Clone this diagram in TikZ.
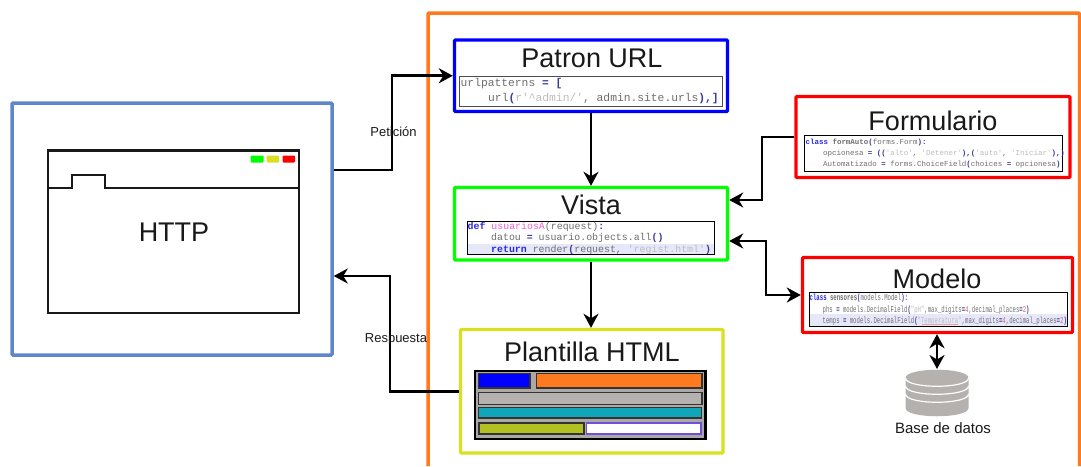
\documentclass[tikz,border=0pt]{standalone}
\usepackage{fontspec}
\usepackage{graphicx}
\setmainfont{Liberation Sans}
\newfontfamily\codef{Liberation Mono}
\usetikzlibrary{arrows.meta}
\definecolor{cliblue}{HTML}{5F85CB}
\definecolor{mvcorange}{HTML}{FF7A1E}
\definecolor{plyellow}{HTML}{D9E021}
\definecolor{hlband}{HTML}{E6E8FA}
\definecolor{cgrey}{HTML}{6E6E6E}
\definecolor{cop}{HTML}{3A3A9A}
\definecolor{cstr}{HTML}{BDBDBD}
\definecolor{ckw}{HTML}{2A2AE0}
\definecolor{cfn}{HTML}{F060D0}
\definecolor{cnum}{HTML}{E06060}
\definecolor{dbgrey}{HTML}{B5B1AE}
\definecolor{panelgrey}{HTML}{ABA8A6}
\definecolor{tealbar}{HTML}{10A5B8}
\definecolor{olivebar}{HTML}{B2C022}
\definecolor{violetline}{HTML}{7050D8}
\tikzset{
  mbox/.style={draw,rounded corners=1pt,inner sep=0pt,fill=white},
  codebox/.style={draw=black,line width=.9pt,inner sep=0pt,fill=white,outer sep=0pt},
  titletext/.style={inner sep=0pt,font=\fontsize{27}{30}\selectfont,text=black!90},
  smalltext/.style={inner sep=0pt,font=\fontsize{13}{15}\selectfont,text=black!90},
  arr/.style={draw=black,line width=2.8pt,line join=miter,-{Stealth[length=14pt,width=15pt,inset=4.5pt]}},
  darr/.style={draw=black,line width=2.8pt,line join=miter,{Stealth[length=14pt,width=15pt,inset=4.5pt]}-{Stealth[length=14pt,width=15pt,inset=4.5pt]}},
  codeline/.style={anchor=base west,inner sep=0pt,text=cgrey},
  codep/.style={codeline,font=\codef\fontsize{11.3}{12}\selectfont},
  codev/.style={codeline,font=\codef\fontsize{9.9}{11}\selectfont},
  codef/.style={codeline,font=\codef\fontsize{7.46}{9}\selectfont},
  codem/.style={codeline,font=\codef\fontsize{9}{11}\selectfont},
  barbox/.style={line width=1.3pt,inner sep=0pt,outer sep=0pt},
  lightbox/.style={rounded corners=1pt,inner sep=0pt,outer sep=0pt},
}
\newcommand{\rectnode}[7]{% style, name, x1,y1,x2,y2, text
  \node[#1,minimum width={(#5-#3)*1pt},minimum height={(#6-#4)*1pt}] (#2) at ({(#3+#5)/2},{(#4+#6)/2}) {#7};}
\newcommand{\ck}[1]{{\bfseries\textcolor{ckw}{#1}}}
\newcommand{\co}[1]{{\bfseries\textcolor{cop}{#1}}}
\newcommand{\cs}[1]{\textcolor{cstr}{#1}}
\newcommand{\cn}[1]{\textcolor{cnum}{#1}}
\newcommand{\squeeze}[1]{\scalebox{.628}[1]{#1}}
\begin{document}
\begin{tikzpicture}[x=1pt,y=-1pt]
\useasboundingbox (0,0) rectangle (1081,466);
% frame of the application
\draw[mvcorange,line width=3.5pt,rounded corners=1pt] (428,466) -- (428,13) -- (1079.5,13) -- (1079.5,466);
% client
\rectnode{mbox,draw=cliblue,line width=3.5pt}{client}{12}{103}{332}{355}{}
\rectnode{draw=black!90,line width=2.2pt,inner sep=0pt,outer sep=0pt}{win}{48}{150.5}{299}{313}{}
\draw[black!90,line width=2.2pt,line join=miter] (win.west |- 0,188) -- (72,188) -- (72,175) -- (105,175) -- (105,188) -- (win.east |- 0,188);
\rectnode{lightbox,fill=green}{lgreen}{250.5}{155.5}{263.5}{162.5}{}
\rectnode{lightbox,fill=plyellow}{lyellow}{266.5}{155.5}{279}{162.5}{}
\rectnode{lightbox,fill=red}{lred}{282.5}{155.5}{295}{162.5}{}
\node[titletext] (http) at (174,232) {HTTP};
% patron URL
\rectnode{mbox,draw=blue,line width=3.4pt}{patron}{454.5}{40}{727.5}{111.5}{}
\node[titletext] (tpatron) at (592,58) {Patron URL};
\rectnode{codebox,draw=black!70}{cpatron}{459.5}{76}{722.5}{106}{}
\node[codep] (pl1) at (460.5,86) {urlpatterns \co{= [}};
\node[codep] (pl2) at (488,101) {url\co{(}\cs{r'\textasciicircum admin/'}, admin.site.urls\co{),]}};
% vista
\rectnode{mbox,draw=green,line width=3.4pt}{vista}{454.5}{187.5}{727.5}{260}{}
\node[titletext] (tvista) at (591,205) {Vista};
\rectnode{codebox}{cvista}{467}{221}{714}{254}{}
\rectnode{fill=hlband,inner sep=0pt,outer sep=0pt}{bandv}{467.5}{243.5}{713.5}{253.5}{}
\node[codev] (vl1) at (467.5,229.5) {\ck{def} \textcolor{cfn}{usuariosA}(request)\co{:}};
\node[codev] (vl2) at (491,240.5) {datou \co{=} usuario.objects.all\co{()}};
\node[codev] (vl3) at (491,252) {\ck{return} render\co{(}request, \cs{'regist.html'}\co{)}};
% formulario
\rectnode{mbox,draw=red,line width=3.4pt}{form}{796}{96.5}{1070}{177.5}{}
\node[titletext] (tform) at (933,121) {Formulario};
\rectnode{codebox}{cform}{804.5}{135.5}{1062.5}{171}{}
\node[codef] (fl1) at (805.5,144) {\ck{class} {\bfseries formAuto}\co{(}forms.Form\co{):}};
\node[codef] (fl2) at (823,155.7) {opcionesa \co{=} \co{((}\cs{'alto'}, \cs{'Detener'}\co{),(}\cs{'auto'}, \cs{'Iniciar'}\co{),)}};
\node[codef] (fl3) at (823,166.7) {Automatizado \co{=} forms.ChoiceField\co{(}choices \co{=} opcionesa\co{)}};
% modelo
\rectnode{mbox,draw=red,line width=3.4pt}{modelo}{802.5}{257.5}{1072.5}{332.5}{}
\node[titletext] (tmodelo) at (937,279) {Modelo};
\rectnode{codebox}{cmodelo}{809}{292}{1067}{326}{}
\rectnode{fill=hlband,inner sep=0pt,outer sep=0pt}{bandm}{809.5}{314}{1066.5}{325.5}{}
\node[codem] (ml1) at (809.5,300.5) {\squeeze{\ck{class} {\bfseries sensores}\co{(}models.Model\co{):}}};
\node[codem] (ml2) at (822.5,312) {\squeeze{phs \co{=} models.DecimalField\co{(}\cs{"pH"},max\_digits\co{=}\cn{4},decimal\_places\co{=}\cn{2}\co{)}}};
\node[codem] (ml3) at (822.5,323) {\squeeze{temps \co{=} models.DecimalField\co{(}\cs{"Temperatura"},max\_digits\co{=}\cn{4},decimal\_places\co{=}\cn{2}\co{)}}};
\draw[cnum!60,line width=.4pt] (922,324.5) -- (958,324.5);
% plantilla
\rectnode{mbox,draw=plyellow,line width=3.4pt}{plantilla}{460.5}{329.5}{723}{453}{}
\node[titletext] (tplant) at (592,352) {Plantilla HTML};
\rectnode{fill=panelgrey,draw=black,line width=2.2pt,inner sep=0pt,outer sep=0pt}{panel}{475}{371}{705.5}{439}{}
\rectnode{barbox,fill=blue,draw=black!80}{pa}{478.5}{373.5}{530}{388}{}
\rectnode{barbox,fill=mvcorange,draw=black!80}{pb}{536.5}{373.5}{702}{388}{}
\rectnode{barbox,fill=dbgrey,draw=black!80}{pc}{478.5}{392.5}{702}{404.5}{}
\rectnode{barbox,fill=tealbar,draw=black!80}{pd}{478.5}{407.5}{701.5}{418}{}
\rectnode{barbox,fill=olivebar,draw=black!80}{pe}{479}{423}{584}{434}{}
\rectnode{barbox,fill=white,draw=violetline}{pf}{586.5}{423}{701}{434}{}
% database
\node[minimum width=63pt,minimum height=48pt,inner sep=0pt,outer sep=0pt] (db) at (937,393) {};
\fill[dbgrey] (905.5,378) .. controls (905.5,367) and (968.5,367) .. (968.5,378) -- (968.5,408)
   .. controls (968.5,419) and (905.5,419) .. (905.5,408) -- cycle;
\foreach \c in {378,386,394}
  \draw[white,line width=1.2pt] (905.5,\c) .. controls (905.5,\c+11) and (968.5,\c+11) .. (968.5,\c);
\node[inner sep=0pt,font=\fontsize{15}{17}\selectfont,text=black!90] (tdb) at (943,428) {Base de datos};
% connectors
\coordinate (ra) at (392,170);
\coordinate (rb) at (390,276);
\coordinate (rc) at (762,200);
\coordinate (rd) at (766,241);
\draw[arr] (client.east |- ra) -- (ra) |- (patron.west);
\draw[arr] (plantilla.west) -| (rb) -- (client.east |- rb);
\draw[arr] (patron.south) -- (vista.north);
\draw[arr] (vista.south) -- (vista.south |- plantilla.north);
\draw[arr] (form.west) -| (rc) -- (vista.east |- rc);
\draw[darr] (vista.east |- rd) -- (rd) |- (modelo.west);
\draw[darr] (modelo.south -| db.north) -- (db.north);
\node[smalltext] (lpet) at (393.5,132) {Petición};
\node[smalltext] (lres) at (396,339) {Respuesta};
\end{tikzpicture}
\end{document}
